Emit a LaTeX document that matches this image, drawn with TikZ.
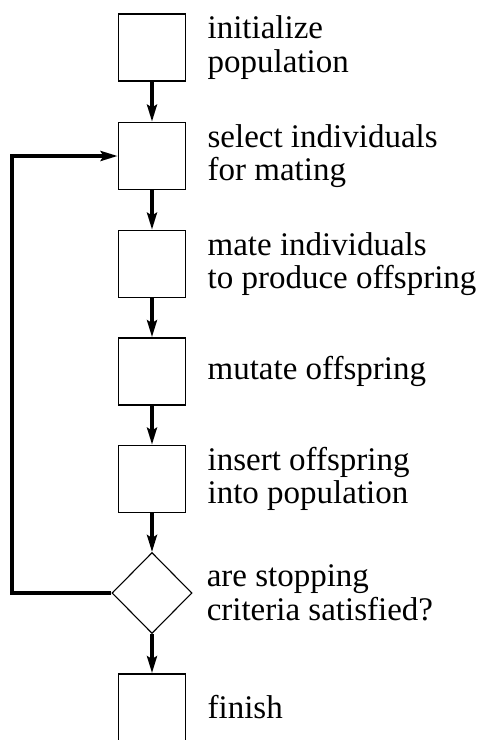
\documentclass[tikz,border=0pt]{standalone}
\usepackage{fontspec}
\setmainfont{Liberation Serif}
\usetikzlibrary{arrows.meta,positioning,shapes.geometric}

\tikzset{
  stepbox/.style={draw, line width=1.8pt, minimum width=67pt, minimum height=67pt, inner sep=0pt},
  testbox/.style={draw, diamond, line width=1.1pt, minimum width=80pt, minimum height=81pt, inner sep=0pt},
  flow/.style={-{Stealth[length=17pt, width=10pt, inset=3pt]}, line width=3.4pt},
  caption/.style={anchor=west, align=left, inner sep=0pt, font=\fontsize{33}{33.5}\selectfont}
}

\begin{document}
\begin{tikzpicture}[x=1pt, y=-1pt]
  \useasboundingbox (0,0) rectangle (483,740);
  % steps of the loop
  \node[stepbox] (init) at (152,47.5) {};
  \node[stepbox] (sel) at (152,156) {};
  \node[stepbox] (mate) at (152,264) {};
  \node[stepbox] (mut) at (152,371.5) {};
  \node[stepbox] (ins) at (152,479) {};
  \node[testbox] (stop) at (152,593) {};
  \node[stepbox] (fin) at (152,707.5) {};
  \coordinate (back) at (12,593);
  % connectors
  \foreach \a/\b in {init/sel, sel/mate, mate/mut, mut/ins, ins/stop, stop/fin}
    \draw[flow] (\a.south) -- (\b.north);
  \draw[flow] (stop.west) -- (back) |- (sel.west);
  % captions
  \node[caption] (tinit) at ([xshift=21pt]init.east) {initialize\\population};
  \node[caption] (tsel) at ([xshift=21pt]sel.east) {select individuals\\for mating};
  \node[caption] (tmate) at ([xshift=21pt]mate.east) {mate individuals\\to produce offspring};
  \node[caption] (tmut) at ([xshift=21pt]mut.east) {mutate offspring};
  \node[caption] (tins) at ([xshift=21pt]ins.east) {insert offspring\\into population};
  \node[caption] (tstop) at ([xshift=14pt]stop.east) {are stopping\\criteria satisfied?};
  \node[caption] (tfin) at ([xshift=21pt]fin.east) {finish};
\end{tikzpicture}
\end{document}
